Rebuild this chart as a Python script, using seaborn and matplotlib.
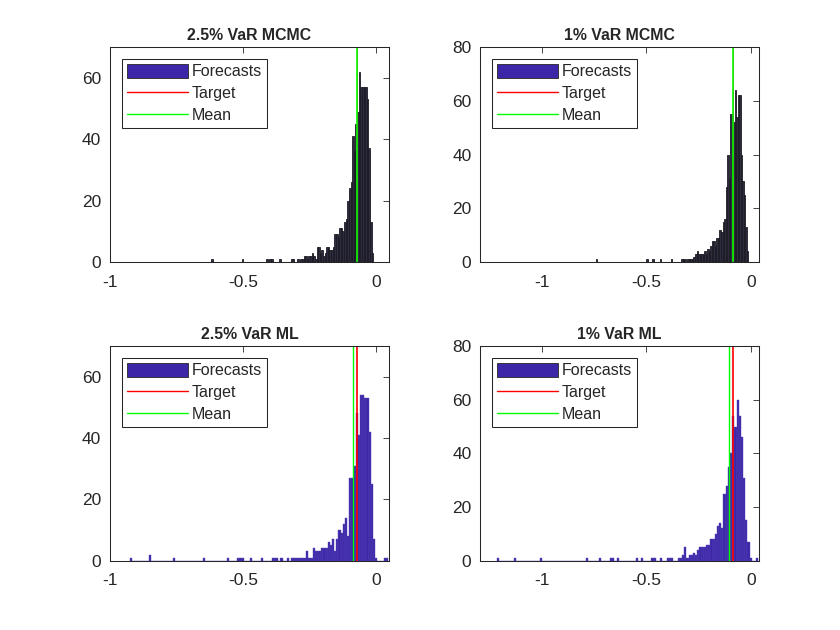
import numpy as np
import pandas as pd
import seaborn as sns
import matplotlib.pyplot as plt
from matplotlib.patches import Patch
from matplotlib.lines import Line2D

# histogram counts (bin i spans edges[i]..edges[i+1])
mcmc25_range = (-0.62, -0.01)
mcmc25_counts = ([1] + [0]*18 + [1] + [0]*14 + [1, 0, 1, 1] + [0]*4 + [1] + [0]*6 +
                 [1, 1, 0, 0, 1, 0, 1, 1, 2, 2, 1, 2, 2, 3, 2, 1, 5, 5, 3, 4,
                  2, 3, 5, 5, 4, 4, 5, 9, 9, 8, 11, 11, 10, 13, 14, 20, 24, 26, 41, 36,
                  45, 49, 62, 57, 57, 57, 57, 53, 37, 13, 3])

mcmc1_range = (-0.742, -0.012)
mcmc1_counts = ([1] + [0]*32 + [1] + [0]*3 + [1] + [0]*4 + [1] + [0]*6 + [1] +
                [0, 0, 0, 0, 0, 0,
                 1, 1, 1, 0, 1, 1, 1, 1, 2, 3, 4, 3, 3, 3, 3, 4, 3, 5, 4, 6, 8, 8,
                 6, 9, 9, 12, 11, 15, 16, 28, 40, 31, 55, 55, 52, 64, 54, 62, 62, 40,
                 30, 25, 13, 4])

ml25_range = (-0.925, 0.045)
ml25_counts = ([1] + [0]*8 + [2] + [0]*10 + [1] + [0]*13 + [1] + [0]*10 + [1] + [0]*4 +
               [1, 1, 1] + [0]*3 + [1] + [0]*4 + [1] + [0]*4 + [1, 1, 1, 0, 1, 0, 0, 1, 0] +
               [1, 1, 1, 1, 1, 1, 1, 3, 1, 1, 4, 3, 3, 3, 4, 4, 4, 6, 5, 7,
                3, 7, 10, 9, 12, 14, 8, 27, 27, 31, 48, 41, 54, 54, 53, 53, 42, 25, 7, 1,
                0, 0, 0, 1, 1])

ml1_range = (-1.215, 0.035)
ml1_counts = ([1] + [0]*7 + [1] + [0]*11 + [1] + [0]*20 + [1] + [0]*5 + [1] + [0]*4 +
              [1, 1, 0, 1] + [0]*8 + [1, 0, 1] + [0]*4 + [1, 1] + [0, 0] +
              [1, 0, 0, 1, 1, 1, 0, 0, 1, 1, 2, 5, 1, 2, 2, 3, 2, 4, 5, 5,
               5, 6, 6, 8, 8, 10, 13, 14, 12, 25, 28, 35, 40, 54, 50, 60, 54, 46, 31, 15,
               7, 1, 0, 0, 1])

titles = ["2.5% VaR MCMC", "1% VaR MCMC", "2.5% VaR ML", "1% VaR ML"]
targets = [-0.073, -0.0875, -0.073, -0.0875]
means = [-0.073, -0.0875, -0.085, -0.104]
xticks = [-1, -0.5, 0]
xtick_labels = ["-1", "-0.5", "0"]
legend_labels = ["Forecasts", "Target", "Mean"]

sns.set_theme(style="white")
plt.rcParams['font.family'] = ['Liberation Sans', 'DejaVu Sans']
plt.rcParams['axes.unicode_minus'] = False

bar_blue = "#3e26a8"

fig = plt.figure(figsize=(8.4, 6.3), dpi=100)
rects = [[0.1306, 0.5841, 0.3329, 0.3413], [0.5711, 0.5841, 0.3329, 0.3413],
         [0.1306, 0.1100, 0.3329, 0.3408], [0.5711, 0.1100, 0.3329, 0.3408]]
panels = [(mcmc25_range, mcmc25_counts), (mcmc1_range, mcmc1_counts),
          (ml25_range, ml25_counts), (ml1_range, ml1_counts)]
xlims = [(-1, 0.05), (-1.296, 0.04), (-1, 0.05), (-1.296, 0.04)]
ylims = [(0, 70), (0, 80), (0, 70), (0, 80)]
yticks = [[0, 20, 40, 60], [0, 20, 40, 60, 80], [0, 20, 40, 60], [0, 20, 40, 60, 80]]

for i, ((lo, hi), counts) in enumerate(panels):
    ax = fig.add_axes(rects[i])
    n = len(counts)
    edges = np.linspace(lo, hi, n + 1)
    df = pd.DataFrame({"x": (edges[:-1] + edges[1:]) / 2, "n": counts})
    if i < 2:
        # MCMC: black bar edges make the dense bins look almost black
        sns.histplot(data=df, x="x", weights="n", bins=n, binrange=(lo, hi), ax=ax,
                     color="#2e2b40", edgecolor="#1c1c24", linewidth=0.6, alpha=1)
        ax.axvline(targets[i], color="red", lw=0.6)
        ax.axvline(means[i], color="#00ff00", lw=1.2)
    else:
        sns.histplot(data=df, x="x", weights="n", bins=n, binrange=(lo, hi), ax=ax,
                     color=bar_blue, edgecolor="#5a48b8", linewidth=0.3, alpha=1)
        ax.axvline(means[i], color="#00ff00", lw=1.0)
        ax.axvline(targets[i], color="red", lw=1.2)
    ax.set_xlim(*xlims[i])
    ax.set_ylim(*ylims[i])
    ax.set_xticks(xticks)
    ax.set_xticklabels(xtick_labels)
    ax.set_yticks(yticks[i])
    ax.set_yticklabels([str(t) for t in yticks[i]])
    ax.set_xlabel("")
    ax.set_ylabel("")
    ax.tick_params(direction="in", top=True, right=True, length=4, width=0.6,
                   labelsize=12.5, colors="#262626")
    ax.tick_params(axis="x", pad=9)
    ax.tick_params(axis="y", pad=6)
    for s in ax.spines.values():
        s.set_color("#262626")
        s.set_linewidth(0.75)
    ax.set_title(titles[i], fontsize=11.4, fontweight="bold", pad=5)

    handles = [Patch(facecolor=bar_blue, edgecolor="#262626", linewidth=0.6),
               Line2D([], [], color="red", lw=1.0),
               Line2D([], [], color="#00ff00", lw=1.0)]
    leg = ax.legend(handles, legend_labels, loc="upper left",
                    bbox_to_anchor=(0.045, 0.945), borderaxespad=0, fontsize=11.5,
                    handlelength=3.8, handleheight=1.0, handletextpad=0.25,
                    labelspacing=0.4, borderpad=0.3, fancybox=False, framealpha=1)
    leg.get_frame().set_edgecolor("#262626")
    leg.get_frame().set_linewidth(0.75)

fig.savefig("out.png", dpi=100)
